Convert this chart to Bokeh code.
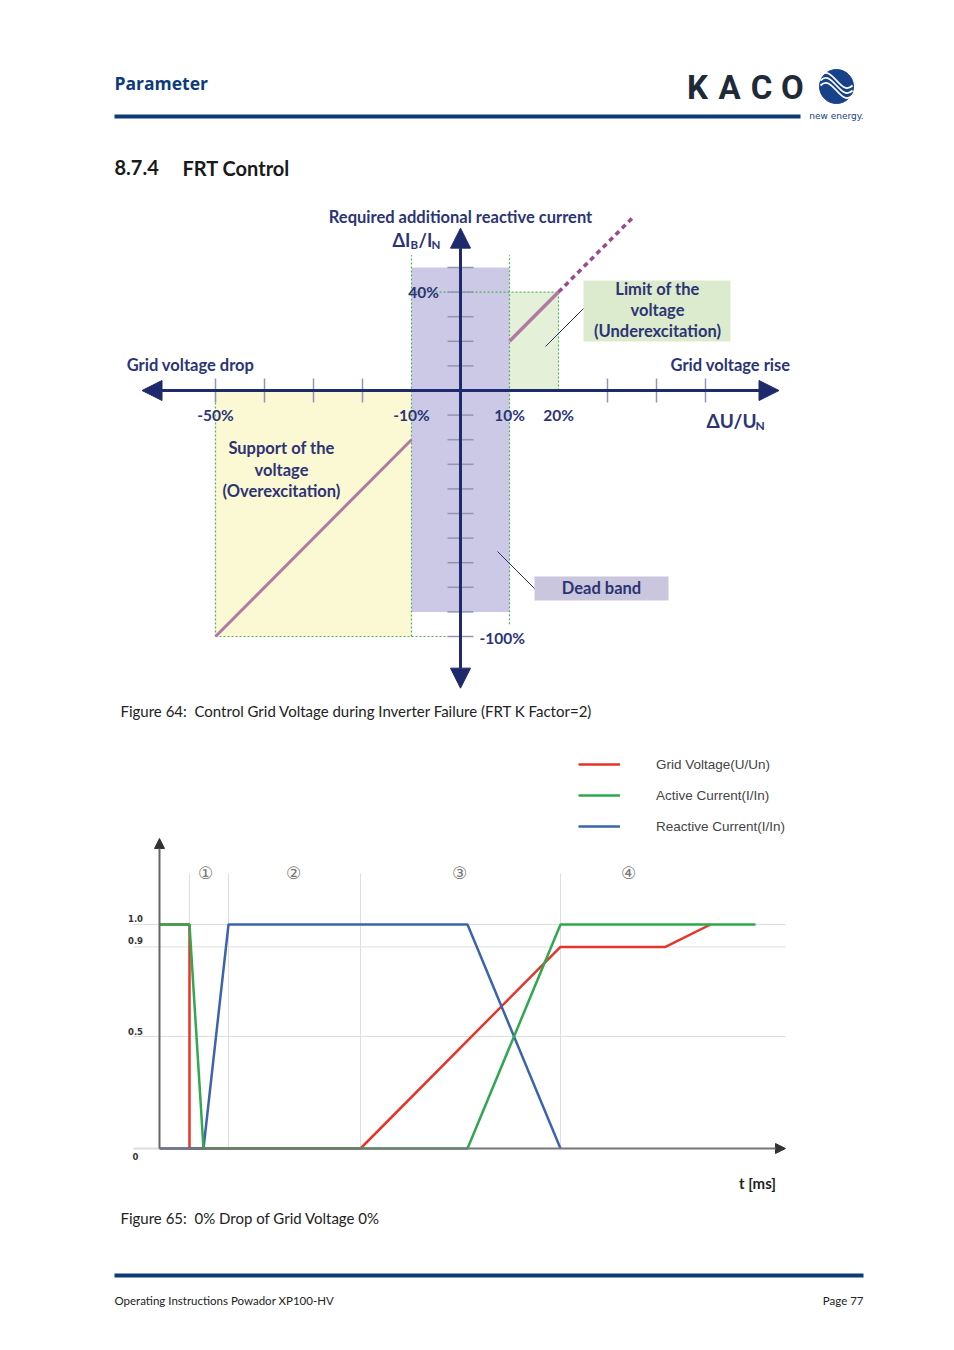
from bokeh.plotting import figure
from bokeh.layouts import column
from bokeh.models import Range1d, Arrow, NormalHead, Legend, LegendItem
from bokeh.core.properties import value
from bokeh.embed import file_html
from bokeh.resources import INLINE

# ---------------- Figure 64 data (in % of nominal) ----------------
dead_band_u = [-10, 10]
dead_band_i = [-90, 50]
limit_band_u = [10, 20]
limit_band_i = [0, 40]
support_band_u = [-50, -10]
support_band_i = [-100, 0]
under_u = [10, 20]
under_i = [20, 40]
under_ext_u = [20, 35]
under_ext_i = [40, 70]
over_u = [-10, -50]
over_i = [-20, -100]
u_ticks = [-50, -40, -30, -20, 30, 40, 50]
i_ticks = [-100, -90, -80, -70, -60, -50, -40, -30, -20, -10, 10, 20, 30, 40, 50]
u_label_pos = [-50, -10, 10, 20]
u_label_txt = ["-50%", "-10%", "10%", "20%"]
u_axis_end = [-65, 65]
i_axis_end = [-121, 66]

# ---------------- Figure 65 data ----------------
t_voltage = [0, 30, 30, 201, 401, 506, 551]
u_voltage = [1.0, 1.0, 0.0, 0.0, 0.9, 0.9, 1.0]
t_active = [0, 30, 44, 308, 401, 596]
i_active = [1.0, 1.0, 0.0, 0.0, 1.0, 1.0]
t_reactive = [0, 44, 69, 308, 401]
i_reactive = [0.0, 0.0, 1.0, 1.0, 0.0]
grid_levels = [1.0, 0.9, 0.5]
level_labels = ["1.0", "0.9", "0.5", "0"]
level_values = [1.0, 0.9, 0.5, 0.0]
phase_bounds = [30, 69, 201, 401]
phase_mid = [46, 134, 300, 469]
phase_names = ["\u2460", "\u2461", "\u2462", "\u2463"]
t_axis_end = 626
v_axis_end = 1.384

NAVY = "#2c3474"
BLUE = "#0d3b7a"
W = 954
LBL = "16.5px"


def base_fig(h, xr, yr):
    p = figure(width=W, height=h, x_range=xr, y_range=yr, output_backend="svg",
               toolbar_location=None, x_axis_location=None, y_axis_location=None,
               min_border=0, outline_line_color=None, background_fill_color="white",
               border_fill_color="white")
    p.grid.visible = False
    return p


def txt(p, x, y, s, size, color, align="left", bold=False, font="Lato", baseline="middle"):
    p.text(x=[x], y=[y], text=[s], text_font=value(font), text_font_size=size,
           text_color=color, text_align=align, text_baseline=baseline,
           text_font_style="bold" if bold else "normal")


# ---------------- Header ----------------
fa = base_fig(195, Range1d(0, W), Range1d(195, 0))
txt(fa, 114, 82, "Parameter", "17.5px", BLUE, bold=True, font="Open Sans")
fa.line(x=[114, 800], y=[116, 116], line_width=4, line_color=BLUE)
for ch, xx in zip("KACO", [697, 729, 761, 792]):
    txt(fa, xx, 87, ch, "33px", "#1e2a38", align="center", bold=True, font="Roboto")
fa.scatter(x=[836], y=[86], size=34, fill_color="#17428a", line_color="#17428a")
for dy in [-5, 0, 5]:
    fa.bezier(x0=[820], y0=[80 + dy], x1=[852], y1=[90 + dy], cx0=[832], cy0=[68 + dy],
              cx1=[840], cy1=[102 + dy], line_color="white", line_width=1.8)
txt(fa, 836, 115, "new energy.", "9px", "#17428a", align="center", font="DejaVu Sans")
txt(fa, 114, 167, "8.7.4", "20px", "#1a1a1a", bold=True)
txt(fa, 182, 167, "FRT Control", "20px", "#1a1a1a", bold=True)

# ---------------- Figure 64 ----------------
def X(px):
    return (px - 460) / 4.9


def Y(py):
    return (390 - py) / 2.46


fb = base_fig(530, Range1d(X(0), X(W)), Range1d(Y(725), Y(195)))
fb.quad(left=[support_band_u[0]], right=[support_band_u[1]], bottom=[support_band_i[0]],
        top=[support_band_i[1]], fill_color="#fbf8d4", line_color=None)
fb.quad(left=[limit_band_u[0]], right=[limit_band_u[1]], bottom=[limit_band_i[0]],
        top=[limit_band_i[1]], fill_color="#e4f0d8", line_color=None)
fb.quad(left=[dead_band_u[0]], right=[dead_band_u[1]], bottom=[dead_band_i[0]],
        top=[dead_band_i[1]], fill_color="#cbc9e5", line_color=None)

dot = dict(line_color="#55b05a", line_width=1.2, line_dash="2 2")
fb.line(x=[dead_band_u[0]] * 2, y=[support_band_i[0], 55], **dot)
fb.line(x=[dead_band_u[1]] * 2, y=[-95, 55], **dot)
fb.line(x=[support_band_u[0]] * 2, y=[support_band_i[0], support_band_i[1]], **dot)
fb.line(x=[limit_band_u[1]] * 2, y=[limit_band_i[0], limit_band_i[1]], **dot)
fb.line(x=[dead_band_u[0], limit_band_u[1]], y=[limit_band_i[1]] * 2, **dot)
fb.line(x=[support_band_u[0], 0], y=[support_band_i[0]] * 2, **dot)

# ticks
fb.segment(x0=u_ticks, x1=u_ticks, y0=[-12 / 2.46] * len(u_ticks), y1=[12 / 2.46] * len(u_ticks),
           line_color="#9095b5", line_width=1.5)
fb.segment(x0=[-13 / 4.9] * len(i_ticks), x1=[13 / 4.9] * len(i_ticks), y0=i_ticks, y1=i_ticks,
           line_color="#9095b5", line_width=1.5)

# axes
for xe in u_axis_end:
    fb.add_layout(Arrow(end=NormalHead(size=20, fill_color="#1e2a6b", line_color="#1e2a6b"),
                        x_start=0, y_start=0, x_end=xe, y_end=0, line_width=3, line_color="#1e2a6b"))
for ye in i_axis_end:
    fb.add_layout(Arrow(end=NormalHead(size=20, fill_color="#1e2a6b", line_color="#1e2a6b"),
                        x_start=0, y_start=0, x_end=0, y_end=ye, line_width=3, line_color="#1e2a6b"))

# characteristic lines
fb.line(x=under_u, y=under_i, line_color="#b07aa3", line_width=3.5)
fb.line(x=under_ext_u, y=under_ext_i, line_color="#9c4a8e", line_width=3.5, line_dash="5 4")
fb.line(x=over_u, y=over_i, line_color="#b07aa3", line_width=3)

# labels
txt(fb, X(460), Y(216), "Required additional reactive current", LBL, NAVY, align="center", bold=True)
txt(fb, X(392), Y(239), "\u0394I", "18px", NAVY, bold=True)
txt(fb, X(410), Y(244), "B", "11.5px", NAVY, bold=True)
txt(fb, X(418), Y(239), "/I", "18px", NAVY, bold=True)
txt(fb, X(431), Y(244), "N", "11.5px", NAVY, bold=True)
txt(fb, X(423), Y(291), "40%", "15.5px", NAVY, align="center", bold=True)
for u, s in zip(u_label_pos, u_label_txt):
    txt(fb, u, Y(414), s, "15.5px", NAVY, align="center", bold=True)
txt(fb, X(479), Y(637), "-100%", "15.5px", NAVY, bold=True)
txt(fb, X(190), Y(364), "Grid voltage drop", LBL, NAVY, align="center", bold=True)
txt(fb, X(730), Y(364), "Grid voltage rise", LBL, NAVY, align="center", bold=True)
txt(fb, X(706), Y(420), "\u0394U/U", "19px", NAVY, bold=True)
txt(fb, X(755), Y(425), "N", "12px", NAVY, bold=True)
for s, py in zip(["Support of the", "voltage", "(Overexcitation)"], [447, 469, 490]):
    txt(fb, X(281), Y(py), s, LBL, NAVY, align="center", bold=True)
fb.quad(left=[X(583)], right=[X(730)], top=[Y(280)], bottom=[Y(341)], fill_color="#dcebcd", line_color=None)
for s, py in zip(["Limit of the", "voltage", "(Underexcitation)"], [288, 309, 330]):
    txt(fb, X(657), Y(py), s, LBL, NAVY, align="center", bold=True)
fb.line(x=[X(545), X(583)], y=[Y(346), Y(308)], line_color="#2c3474", line_width=1)
fb.quad(left=[X(534)], right=[X(668)], top=[Y(576)], bottom=[Y(600)], fill_color="#c9c6dd", line_color=None)
txt(fb, X(601), Y(587), "Dead band", LBL, NAVY, align="center", bold=True)
fb.line(x=[X(497), X(534)], y=[Y(551), Y(588)], line_color="#2c3474", line_width=1)
txt(fb, X(120), Y(710), "Figure 64:\u00a0 Control Grid Voltage during Inverter Failure (FRT K Factor=2)",
    "15px", "#222222")

# ---------------- Figure 65 ----------------
def T(px):
    return px - 159


def V(py):
    return (1148 - py) / 224


fc = base_fig(625, Range1d(T(0), T(W)), Range1d(V(1350), V(725)))
fc.segment(x0=[T(133)] * len(grid_levels), x1=[t_axis_end] * len(grid_levels), y0=grid_levels,
           y1=grid_levels, line_color="#dedede", line_width=1)
fc.segment(x0=phase_bounds, x1=phase_bounds, y0=[0] * len(phase_bounds),
           y1=[V(873)] * len(phase_bounds), line_color="#dedede", line_width=1)
fc.line(x=[T(133), 0], y=[0, 0], line_color="#dddddd", line_width=2)
for s, tm in zip(phase_names, phase_mid):
    txt(fc, tm, V(872), s, "17px", "#777777", align="center", font="DejaVu Sans")
offs = [6, 6, 5, -8]
for s, lv, o in zip(level_labels, level_values, offs):
    txt(fc, T(135), lv + o / 224, s, "8.5px", "#333333", align="center", bold=True, font="DejaVu Sans")

fc.add_layout(Arrow(end=NormalHead(size=10, fill_color="#333333", line_color="#333333"),
                    x_start=0, y_start=0, x_end=0, y_end=v_axis_end, line_width=2, line_color="#666666"))
fc.add_layout(Arrow(end=NormalHead(size=10, fill_color="#333333", line_color="#333333"),
                    x_start=0, y_start=0, x_end=t_axis_end, y_end=0, line_width=2, line_color="#777777"))

r_u = fc.line(x=t_voltage, y=u_voltage, line_color="#e5352b", line_width=2.5)
r_q = fc.line(x=t_reactive, y=i_reactive, line_color="#3b64ad", line_width=2.5)
r_p = fc.line(x=t_active, y=i_active, line_color="#2fa84f", line_width=2.5)

legend = Legend(items=[LegendItem(label="Grid Voltage(U/Un)", renderers=[r_u]),
                       LegendItem(label="Active Current(I/In)", renderers=[r_p]),
                       LegendItem(label="Reactive Current(I/In)", renderers=[r_q])],
                location=(578, 514), glyph_width=42, glyph_height=20, label_height=20,
                spacing=11, padding=5, label_standoff=36, border_line_color=None,
                background_fill_alpha=0, label_text_font="Liberation Sans",
                label_text_font_size="13.5px", label_text_color="#444444", margin=0)
fc.add_layout(legend)

txt(fc, T(757), V(1182), "t [ms]", "15px", "#222222", align="center", bold=True)
txt(fc, T(120), V(1217), "Figure 65:\u00a0 0% Drop of Grid Voltage 0%", "15px", "#222222")
fc.line(x=[T(114), T(863)], y=[V(1275), V(1275)], line_width=4, line_color=BLUE)
txt(fc, T(114), V(1300), "Operating Instructions Powador XP100-HV", "11.5px", "#222222")
txt(fc, T(863), V(1300), "Page 77", "11.5px", "#222222", align="right")

layout = column(fa, fb, fc, spacing=0)
open("out.html", "w").write(file_html(layout, INLINE))
